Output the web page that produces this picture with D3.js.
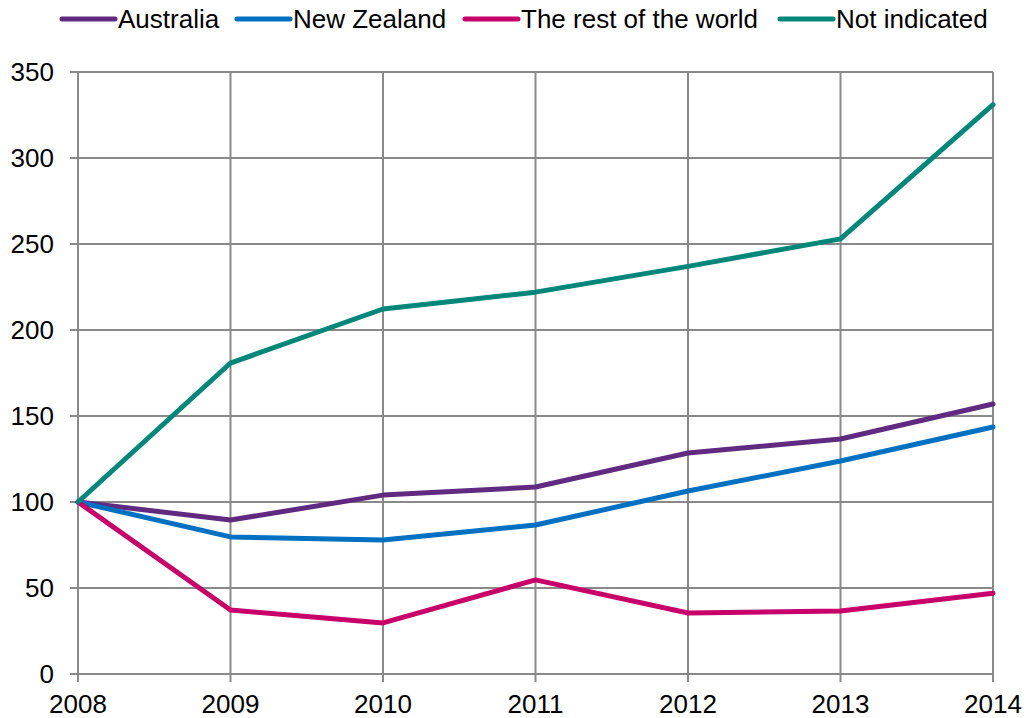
<!DOCTYPE html>
<html>
<head>
<meta charset="utf-8">
<script src="https://cdnjs.cloudflare.com/ajax/libs/d3/7.8.5/d3.min.js"></script>
<style>
  body { margin: 0; background: #fff; }
  svg { font-family: "Liberation Sans", Arial, sans-serif; }
</style>
</head>
<body>
<svg id="chart" width="1026" height="718"></svg>
<script>
var years = [2008, 2009, 2010, 2011, 2012, 2013, 2014];
var yTicks = [0, 50, 100, 150, 200, 250, 300, 350];
var seriesNames = ["Australia", "New Zealand", "The rest of the world", "Not indicated"];
var australia = [100, 89.5, 104, 108.7, 128.5, 136.6, 157];
var newZealand = [100, 79.7, 77.9, 86.6, 106.4, 123.8, 143.6];
var restOfWorld = [100, 37.2, 29.7, 54.7, 35.5, 36.6, 47];
var notIndicated = [100, 180.8, 212.2, 222, 237, 253, 331];
var colors = ["#602a80", "#0070c0", "#c8006a", "#00877a"];

var series = [australia, newZealand, restOfWorld, notIndicated];

var svg = d3.select("#chart");
var plotL = 78, plotR = 993, plotT = 72, plotB = 674;

var x = d3.scaleLinear().domain([2008, 2014]).range([plotL, plotR]);
var y = d3.scaleLinear().domain([0, 350]).range([plotB, plotT]);

// grid
svg.append("g").selectAll("line").data(yTicks).enter().append("line")
  .attr("x1", plotL - 8).attr("x2", plotR)
  .attr("y1", function(d){ return y(d); }).attr("y2", function(d){ return y(d); })
  .attr("stroke", "#898989").attr("stroke-width", 2);
svg.append("g").selectAll("line").data(years).enter().append("line")
  .attr("x1", function(d){ return x(d); }).attr("x2", function(d){ return x(d); })
  .attr("y1", plotT).attr("y2", plotB + 8)
  .attr("stroke", "#898989").attr("stroke-width", 2);

// tick labels
svg.append("g").selectAll("text").data(yTicks).enter().append("text")
  .attr("x", 54).attr("y", function(d){ return y(d); })
  .attr("dy", "0.35em").attr("text-anchor", "end")
  .attr("font-size", 26).attr("fill", "#000")
  .text(function(d){ return d; });
svg.append("g").selectAll("text").data(years).enter().append("text")
  .attr("x", function(d){ return x(d); }).attr("y", 713)
  .attr("text-anchor", "middle")
  .attr("font-size", 26).attr("fill", "#000")
  .text(function(d){ return d; });

// lines
var line = d3.line()
  .x(function(d, i){ return x(years[i]); })
  .y(function(d){ return y(d); });

svg.append("g").selectAll("path").data(series).enter().append("path")
  .attr("d", line)
  .attr("fill", "none")
  .attr("stroke", function(d, i){ return colors[i]; })
  .attr("stroke-width", 5)
  .attr("stroke-linejoin", "round")
  .attr("stroke-linecap", "round");

// legend
var legendX = [60, 235, 463, 778];
var lg = svg.append("g").selectAll("g").data(seriesNames).enter().append("g")
  .attr("transform", function(d, i){ return "translate(" + legendX[i] + ",19)"; });
lg.append("line")
  .attr("x1", 2).attr("x2", 55).attr("y1", 0).attr("y2", 0)
  .attr("stroke", function(d, i){ return colors[i]; })
  .attr("stroke-width", 5).attr("stroke-linecap", "round");
lg.append("text")
  .attr("x", 58).attr("y", 0).attr("dy", "0.35em")
  .attr("font-size", 26).attr("fill", "#000")
  .text(function(d){ return d; });
</script>
</body>
</html>
